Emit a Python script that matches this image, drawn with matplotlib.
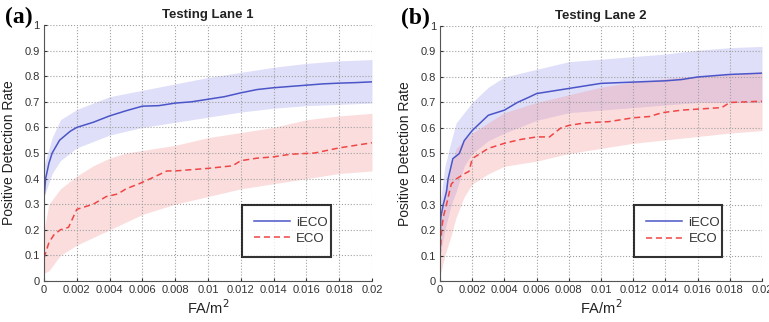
import numpy as np
import matplotlib
matplotlib.use('Agg')
import matplotlib.pyplot as plt

# ---- Testing Lane 1 ----
x1_mean_ieco = [0, 0.0001, 0.0003, 0.0005, 0.00095, 0.0016, 0.002, 0.003, 0.004, 0.005, 0.006, 0.007, 0.008,
                0.009, 0.01, 0.011, 0.012, 0.013, 0.014, 0.015, 0.016, 0.017, 0.018, 0.019, 0.02]
y1_mean_ieco = [0.32, 0.40, 0.46, 0.50, 0.55, 0.585, 0.60, 0.62, 0.645, 0.665, 0.683, 0.685, 0.695,
                0.70, 0.71, 0.72, 0.735, 0.748, 0.755, 0.76, 0.765, 0.77, 0.773, 0.775, 0.778]
x1_band_ieco = [0, 0.0005, 0.001, 0.002, 0.004, 0.006, 0.008, 0.01, 0.012, 0.014, 0.016, 0.018, 0.02]
hi1_ieco = [0.45, 0.56, 0.63, 0.67, 0.72, 0.745, 0.77, 0.795, 0.815, 0.835, 0.85, 0.86, 0.865]
lo1_ieco = [0.33, 0.42, 0.47, 0.52, 0.57, 0.60, 0.62, 0.64, 0.66, 0.675, 0.685, 0.69, 0.695]

x1_mean_eco = [0, 0.0003, 0.0006, 0.001, 0.0015, 0.002, 0.0025, 0.003, 0.0038, 0.0045, 0.005, 0.0058,
               0.0065, 0.0075, 0.008, 0.009, 0.01, 0.0115, 0.012, 0.013, 0.014, 0.015, 0.0165, 0.018, 0.019, 0.02]
y1_mean_eco = [0.09, 0.15, 0.18, 0.20, 0.21, 0.28, 0.29, 0.30, 0.33, 0.34, 0.36, 0.38,
               0.40, 0.43, 0.43, 0.435, 0.44, 0.45, 0.47, 0.48, 0.485, 0.495, 0.50, 0.52, 0.53, 0.54]
x1_band_eco = [0, 0.0003, 0.001, 0.002, 0.003, 0.004, 0.005, 0.006, 0.008, 0.01, 0.012, 0.014, 0.016, 0.018, 0.02]
hi1_eco = [0.20, 0.30, 0.36, 0.41, 0.45, 0.48, 0.50, 0.51, 0.53, 0.56, 0.58, 0.60, 0.63, 0.645, 0.655]
lo1_eco = [0.03, 0.04, 0.10, 0.14, 0.17, 0.20, 0.23, 0.26, 0.30, 0.33, 0.36, 0.38, 0.40, 0.42, 0.43]

# ---- Testing Lane 2 ----
x2_mean_ieco = [0, 0.00005, 0.0002, 0.0004, 0.0005, 0.0008, 0.0012, 0.0015, 0.002, 0.0025, 0.003, 0.004,
                0.0048, 0.0055, 0.006, 0.007, 0.008, 0.009, 0.01, 0.012, 0.014, 0.015, 0.016, 0.018, 0.02]
y2_mean_ieco = [0.15, 0.25, 0.30, 0.35, 0.40, 0.48, 0.50, 0.55, 0.59, 0.62, 0.65, 0.67,
                0.70, 0.72, 0.735, 0.745, 0.755, 0.765, 0.775, 0.78, 0.785, 0.79, 0.80, 0.81, 0.815]
x2_band_ieco = [0, 0.0003, 0.0007, 0.001, 0.0015, 0.002, 0.003, 0.004, 0.006, 0.008, 0.01, 0.012, 0.014, 0.016, 0.018, 0.02]
hi2_ieco = [0.30, 0.45, 0.55, 0.62, 0.66, 0.70, 0.76, 0.80, 0.83, 0.86, 0.87, 0.88, 0.89, 0.905, 0.915, 0.92]
lo2_ieco = [0.10, 0.20, 0.30, 0.35, 0.45, 0.50, 0.55, 0.58, 0.63, 0.66, 0.67, 0.68, 0.69, 0.70, 0.70, 0.70]

x2_mean_eco = [0, 0.0001, 0.0002, 0.0004, 0.0007, 0.001, 0.0015, 0.0018, 0.002, 0.0025, 0.003, 0.0035, 0.004,
               0.005, 0.006, 0.0068, 0.0075, 0.008, 0.009, 0.0105, 0.011, 0.012, 0.013, 0.0138, 0.015,
               0.0175, 0.018, 0.02]
y2_mean_eco = [0.10, 0.20, 0.25, 0.30, 0.38, 0.40, 0.42, 0.43, 0.48, 0.50, 0.52, 0.53, 0.54,
               0.555, 0.565, 0.565, 0.60, 0.61, 0.62, 0.625, 0.63, 0.64, 0.645, 0.66, 0.67,
               0.68, 0.70, 0.705]
x2_band_eco = [0, 0.0003, 0.0007, 0.001, 0.0015, 0.002, 0.003, 0.004, 0.006, 0.008, 0.01, 0.012, 0.015, 0.018, 0.02]
hi2_eco = [0.20, 0.35, 0.45, 0.52, 0.55, 0.58, 0.62, 0.66, 0.70, 0.73, 0.76, 0.78, 0.80, 0.81, 0.82]
lo2_eco = [0.02, 0.10, 0.18, 0.25, 0.33, 0.38, 0.42, 0.45, 0.47, 0.50, 0.52, 0.54, 0.56, 0.58, 0.59]

xticks = [0, 0.002, 0.004, 0.006, 0.008, 0.01, 0.012, 0.014, 0.016, 0.018, 0.02]
xticklabels = ['0', '0.002', '0.004', '0.006', '0.008', '0.01', '0.012', '0.014', '0.016', '0.018', '0.02']
yticks = [0, 0.1, 0.2, 0.3, 0.4, 0.5, 0.6, 0.7, 0.8, 0.9, 1]
yticklabels = ['0', '0.1', '0.2', '0.3', '0.4', '0.5', '0.6', '0.7', '0.8', '0.9', '1']

plt.rcParams['font.family'] = ['Liberation Sans', 'DejaVu Sans']

blue = '#4b55c8'
red = '#f04545'

fig = plt.figure(figsize=(7.69, 3.22), dpi=100)
ax1 = fig.add_axes([0.0572, 0.1273, 0.4265, 0.795])
ax2 = fig.add_axes([0.5722, 0.1273, 0.4187, 0.792])

panels = [
    (ax1, 'Testing Lane 1', '(a)', x1_band_ieco, hi1_ieco, lo1_ieco, x1_mean_ieco, y1_mean_ieco,
     x1_band_eco, hi1_eco, lo1_eco, x1_mean_eco, y1_mean_eco),
    (ax2, 'Testing Lane 2', '(b)', x2_band_ieco, hi2_ieco, lo2_ieco, x2_mean_ieco, y2_mean_ieco,
     x2_band_eco, hi2_eco, lo2_eco, x2_mean_eco, y2_mean_eco),
]

for ax, title, tag, xbi, hbi, lbi, xmi, ymi, xbe, hbe, lbe, xme, yme in panels:
    ax.fill_between(xbi, lbi, hbi, color='#8080e8', alpha=0.25, lw=0)
    ax.fill_between(xbe, lbe, hbe, color='#f49090', alpha=0.3, lw=0)
    ax.plot(xmi, ymi, color=blue, lw=1.1, label='iECO')
    ax.plot(xme, yme, color=red, lw=1.1, ls=(0, (4, 2.5)), label='ECO')

    ax.set_xlim(0, 0.02)
    ax.set_ylim(0, 1)
    ax.set_xticks(xticks)
    ax.set_xticklabels(xticklabels)
    ax.set_yticks(yticks)
    ax.set_yticklabels(yticklabels)
    ax.tick_params(direction='in', length=2, labelsize=8, colors='#333333', pad=3)
    ax.grid(True, ls=':', color='#a0a0a0', lw=0.8)
    for s in ['top', 'right']:
        ax.spines[s].set_visible(False)
    for s in ['left', 'bottom']:
        ax.spines[s].set_color('#555555')
    ax.set_title(title, fontsize=9.5, fontweight='bold', color='#222222', pad=5)
    ax.set_xlabel('FA/m$^2$', fontsize=10.5, color='#222222', labelpad=2)
    ax.set_ylabel('Positive Detection Rate', fontsize=10, color='#222222', labelpad=6)
    ax.text(-0.12, 1.03, tag, transform=ax.transAxes, fontsize=17, fontweight='bold',
            family=['Liberation Serif', 'DejaVu Serif'], va='center', ha='left')

    leg = ax.legend(loc='lower left', bbox_to_anchor=(0.604, 0.094, 0.271, 0.206), mode='expand',
                    fontsize=9.5, handlelength=2.7, frameon=True, fancybox=False,
                    borderpad=0.9, labelspacing=0.3, handletextpad=0.5, borderaxespad=0)
    leg.get_frame().set_edgecolor('black')
    leg.get_frame().set_linewidth(1.5)
    for t in leg.get_texts():
        t.set_color('#333333')

fig.savefig('out.png', dpi=100)
